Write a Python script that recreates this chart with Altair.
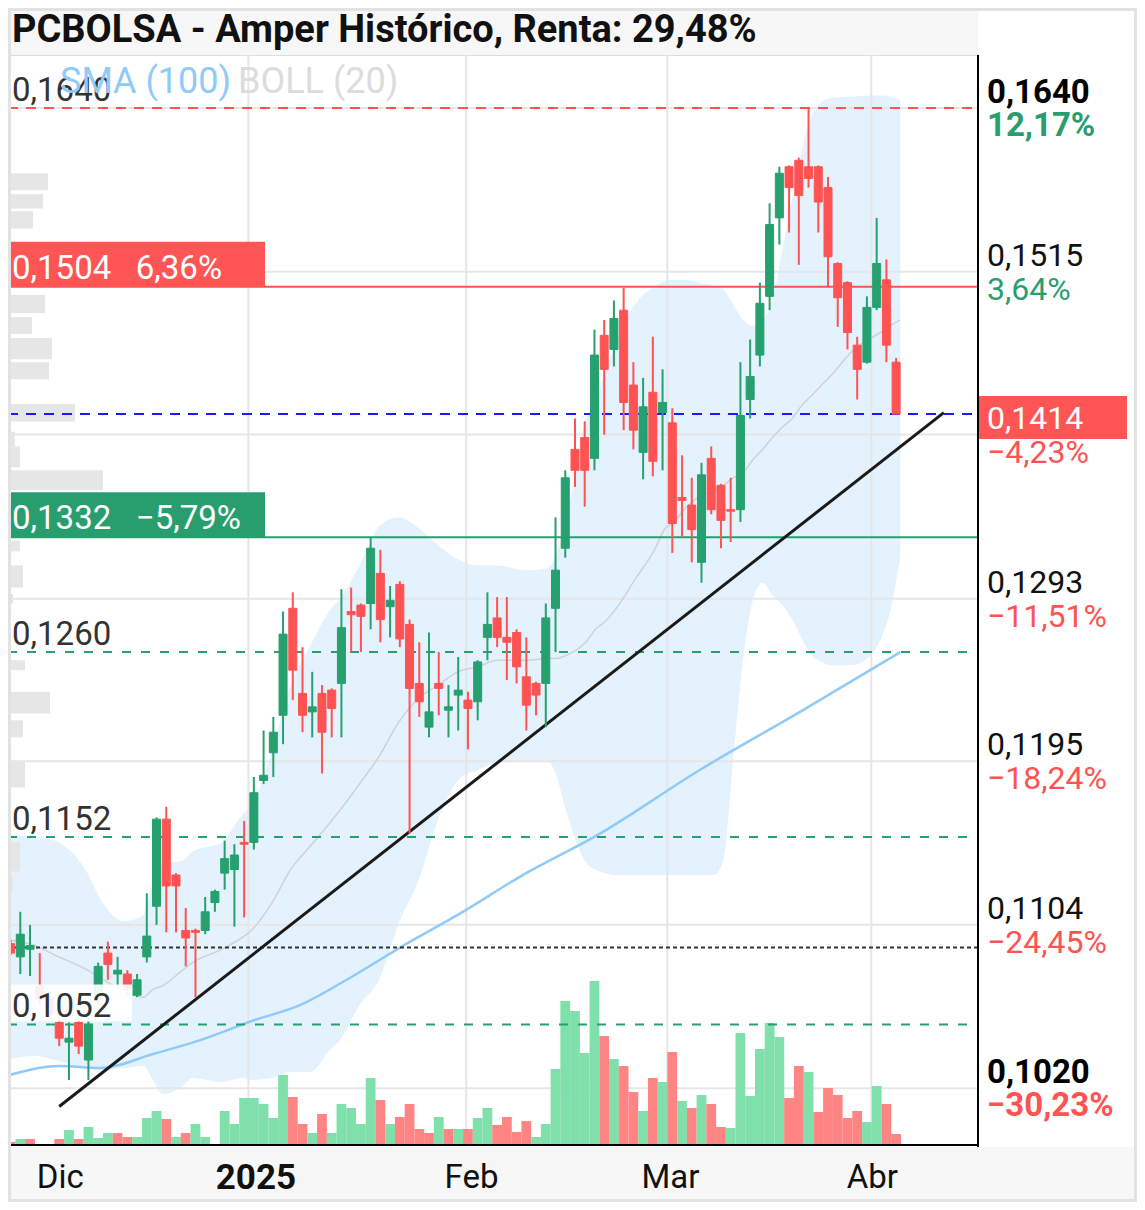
import altair as alt
import pandas as pd

# ---------------- data ----------------
# trading-day index 0..91 (25 Nov 2024 .. 4 Apr 2025)
opens = [0.1094,0.1087,0.1091,0.1072,0.1065,0.1053,0.1043,0.1053,0.1034,0.1065,
         0.1089,0.1078,0.1078,0.1067,0.1087,0.1114,0.1162,0.1131,0.1101,0.1101,
         0.1101,0.1116,0.1132,0.1134,0.1149,0.1149,0.1184,0.1200,0.1222,0.1287,
         0.1235,0.1224,0.1235,0.1237,0.1241,0.1285,0.1289,0.1290,0.1309,0.1288,
         0.1302,0.1277,0.1241,0.1215,0.1241,0.1225,0.1234,0.1231,0.1230,0.1269,
         0.1281,0.1269,0.1272,0.1245,0.1241,0.1241,0.1287,0.1325,0.1390,0.1398,
         0.1384,0.1469,0.1459,0.1487,0.1434,0.1388,0.1429,0.1415,0.1408,0.1358,
         0.1353,0.1316,0.1384,0.1366,0.1350,0.1350,0.1424,0.1455,0.1497,0.1555,
         0.1594,0.1599,0.1594,0.1594,0.1578,0.1521,0.1507,0.1462,0.1450,0.1489,
         0.1509,0.1450]
highs = [0.1096,0.1111,0.1104,0.1089,0.1067,0.1055,0.1053,0.1055,0.1055,0.1084,
         0.1095,0.1087,0.1080,0.1078,0.1121,0.1163,0.1169,0.1132,0.1113,0.1102,
         0.1119,0.1123,0.1150,0.1148,0.1161,0.1186,0.1213,0.1221,0.1285,0.1297,
         0.1263,0.1248,0.1240,0.1238,0.1299,0.1300,0.1290,0.1332,0.1324,0.1301,
         0.1304,0.1280,0.1266,0.1272,0.1260,0.1240,0.1257,0.1236,0.1255,0.1297,
         0.1294,0.1294,0.1274,0.1269,0.1242,0.1290,0.1345,0.1376,0.1411,0.1409,
         0.1473,0.1480,0.1494,0.1503,0.1450,0.1439,0.1468,0.1445,0.1418,0.1386,
         0.1371,0.1381,0.1392,0.1367,0.1371,0.1450,0.1466,0.1507,0.1566,0.1594,
         0.1595,0.1601,0.1640,0.1595,0.1586,0.1522,0.1508,0.1468,0.1497,0.1555,
         0.1524,0.1453]
lows = [0.1088,0.1078,0.1077,0.1062,0.1054,0.1041,0.1024,0.1037,0.1024,0.1062,
        0.1075,0.1072,0.1067,0.1066,0.1084,0.1104,0.1100,0.1100,0.1082,0.1066,
        0.1099,0.1111,0.1123,0.1103,0.1108,0.1145,0.1182,0.1186,0.1205,0.1231,
        0.1212,0.1209,0.1188,0.1209,0.1209,0.1260,0.1260,0.1274,0.1266,0.1269,
        0.1263,0.1154,0.1221,0.1209,0.1222,0.1209,0.1213,0.1202,0.1219,0.1255,
        0.1263,0.1243,0.1241,0.1213,0.1222,0.1215,0.1260,0.1319,0.1365,0.1352,
        0.1376,0.1400,0.1447,0.1403,0.1390,0.1370,0.1372,0.1376,0.1322,0.1332,
        0.1316,0.1303,0.1347,0.1325,0.1329,0.1342,0.1411,0.1447,0.1487,0.1535,
        0.1544,0.1520,0.1578,0.1544,0.1504,0.1475,0.1459,0.1424,0.1449,0.1487,
        0.1450,0.1414]
closes = [0.1089,0.1099,0.1093,0.1065,0.1057,0.1045,0.1045,0.1041,0.1052,0.1082,
          0.1083,0.1080,0.1070,0.1075,0.1098,0.1162,0.1125,0.1125,0.1097,0.1100,
          0.1111,0.1122,0.1140,0.1142,0.1148,0.1177,0.1187,0.1212,0.1271,0.1249,
          0.1222,0.1227,0.1212,0.1226,0.1275,0.1283,0.1282,0.1325,0.1280,0.1292,
          0.1268,0.1238,0.1230,0.1224,0.1238,0.1227,0.1237,0.1226,0.1254,0.1277,
          0.1269,0.1266,0.1251,0.1228,0.1234,0.1281,0.1311,0.1371,0.1376,0.1376,
          0.1455,0.1445,0.1481,0.1422,0.1403,0.1419,0.1382,0.1422,0.1341,0.1356,
          0.1337,0.1373,0.1350,0.1343,0.1349,0.1413,0.1440,0.1492,0.1550,0.1589,
          0.1578,0.1572,0.1585,0.1567,0.1526,0.1496,0.1471,0.1445,0.1489,0.1521,
          0.1462,0.1414]
volumes = [0.3,0.6,0.6,0.1,0.1,0.6,1.5,0.6,1.8,0.7,
           1.2,1.2,0.8,0.8,2.7,3.4,2.6,0.8,1.2,2.1,
           0.8,0.1,3.4,2.1,4.7,4.7,4.1,2.7,7.0,4.8,
           2.1,1.2,3.1,1.2,4.1,3.7,2.1,6.7,4.5,2.1,
           2.8,4.1,1.6,1.2,2.8,1.6,1.6,1.6,2.7,3.7,
           2.0,2.8,1.3,2.4,0.8,2.1,7.6,14.4,13.4,9.2,
           16.4,10.9,8.6,7.9,5.3,3.4,6.7,6.3,9.3,4.4,
           3.7,5.0,4.1,1.8,1.7,11.2,4.9,9.6,12.2,10.8,
           4.7,7.9,7.3,3.3,5.7,5.0,2.7,3.4,2.3,5.9,
           4.1,1.1]
vol_up = [0,1,0,0,0,0,1,0,1,1, 1,0,0,1,1,1,0,1,0,1,
          1,1,1,1,1,1,1,1,1,0, 0,1,0,1,1,1,1,1,0,1,
          0,0,0,0,1,0,1,0,1,1, 0,0,0,0,1,1,1,1,1,1,
          1,0,1,0,0,1,0,1,0,1, 0,1,0,0,1,1,1,1,1,1,
          0,0,1,0,0,0,0,0,1,1, 0,0]

band_idx = [0,3,5,8,10,12,14,15,16,18,19,22,24,25,27,29,31,33,34,36,38,40,42,44,46,
            48,50,53,55,56,57,58,59,60,61,62,63,64,65,66,67,68,69,70,71,72,73,74,75,
            76,77,78,79,80,81,82,83,84,86,88,89,90,91]
band_upper = [0.1153,0.1152,0.1150,0.1135,0.1115,0.1106,0.1109,0.1128,0.1137,0.1139,
              0.1144,0.1149,0.1164,0.1170,0.1199,0.1240,0.1264,0.1286,0.1293,0.1314,
              0.1339,0.1345,0.1338,0.1327,0.1318,0.1314,0.1314,0.1311,0.1312,0.1321,
              0.1343,0.1376,0.1410,0.1420,0.1445,0.1462,0.1480,0.1491,0.1499,0.1504,
              0.1508,0.1509,0.1509,0.1508,0.1506,0.1505,0.1502,0.1491,0.1480,0.1476,
              0.1480,0.1494,0.1531,0.1569,0.1607,0.1634,0.1645,0.1648,0.1649,0.1650,
              0.1650,0.1649,0.1646]
band_mid = [0.1096,0.1093,0.1088,0.1081,0.1075,0.1069,0.1066,0.1070,0.1072,0.1080,
            0.1084,0.1091,0.1097,0.1101,0.1115,0.1134,0.1147,0.1160,0.1167,0.1182,
            0.1198,0.1218,0.1232,0.1240,0.1248,0.1251,0.1255,0.1255,0.1256,0.1256,
            0.1258,0.1261,0.1266,0.1274,0.1279,0.1286,0.1295,0.1305,0.1314,0.1324,
            0.1337,0.1342,0.1350,0.1356,0.1360,0.1363,0.1366,0.1371,0.1374,0.1383,
            0.1390,0.1398,0.1405,0.1411,0.1420,0.1427,0.1434,0.1441,0.1457,0.1467,
            0.1471,0.1476,0.1480]
band_lower = [0.1034,0.1036,0.1034,0.1030,0.1029,0.1030,0.1031,0.1024,0.1017,0.1021,
              0.1025,0.1023,0.1025,0.1024,0.1025,0.1028,0.1028,0.1039,0.1044,0.1062,
              0.1075,0.1105,0.1128,0.1162,0.1184,0.1190,0.1194,0.1195,0.1196,0.1187,
              0.1167,0.1150,0.1138,0.1134,0.1132,0.1131,0.1131,0.1131,0.1131,0.1131,
              0.1131,0.1131,0.1131,0.1131,0.1131,0.1131,0.1139,0.1196,0.1255,0.1292,
              0.1303,0.1295,0.1289,0.1280,0.1268,0.1258,0.1254,0.1252,0.1252,0.1258,
              0.1268,0.1286,0.1320]

sma100_idx = [0,5.5,9.6,15,19.8,25.2,30,34.7,40.8,46.2,52.3,60.5,70.6,80.8,91]
sma100 = [0.1026,0.1031,0.1030,0.1037,0.1044,0.1054,0.1062,0.1075,0.1094,0.1110,
          0.1130,0.1154,0.1190,0.1224,0.1260]

vp_top = [0.1589,0.1573,0.1560,0.1498,0.1482,0.1467,0.1450,0.1421,0.1402,0.1392,
          0.1376,0.1330,0.1314,0.1296,0.1255,0.1236,0.1219,0.1195,0.1149,0.1130]
vp_bottom = [0.1576,0.1562,0.1547,0.1485,0.1470,0.1452,0.1438,0.1409,0.1392,0.1378,
             0.1363,0.1323,0.1300,0.1290,0.1249,0.1223,0.1209,0.1180,0.1133,0.1122]
vp_volume = [400,350,250,370,240,440,410,670,70,120,950,120,150,50,170,420,150,170,120,50]

tick_values = [0.1640, 0.1515, 0.1400, 0.1293, 0.1195, 0.1104, 0.1020]
tick_pct = [12.17, 3.64, -4.23, -11.51, -18.24, -24.45, -30.23]
tick_bold = [True, False, False, False, False, False, True]

month_pos = [4.6, 24.7, 46.85, 67.3, 88.05]
month_labels = ["Dic", "2025", "Feb", "Mar", "Abr"]
month_bold = [False, True, False, False, False]

top_level = [0.1640]
box_levels = [0.1504, 0.1332]
box_pct = [6.36, -5.79]
support_levels = [0.1260, 0.1152, 0.1052]
start_price = [0.1092]
trend_idx = [5.0, 95.9]
trend_price = [0.1011, 0.1415]

TITLE = "PCBOLSA - Amper Histórico, Renta: 29,48%"

# ---------------- styling ----------------
GREEN = "#26a06e"
RED = "#ff5252"
VGREEN = "#80e0ab"
VRED = "#ff8585"
SMA_C = "#90caf9"
BAND_C = "#e3f2fd"
GRID_C = "#e6e6e6"
FONT = "Roboto"
W, H = 970, 1090
GAP = "\u00a0\u00a0\u00a0"


def X(f):
    return alt.X(f"{f}:Q", scale=alt.Scale(domain=[0.25, 98.9], nice=False, zero=False), axis=None)


def Y(f):
    return alt.Y(f"{f}:Q", scale=alt.Scale(type="log", domain=[0.09923, 0.16827], nice=False, zero=False), axis=None)


one = pd.DataFrame({"k": [0]})
fmt_price = "replace(format(datum.v, '.4f'), '.', ',')"
fmt_pct = "replace(format(datum.pct, '.2f'), '.', ',') + '%'"

cdf = pd.DataFrame({"i": list(range(len(closes))), "o": opens, "h": highs, "l": lows,
                    "c": closes, "vol": volumes, "vup": [bool(x) for x in vol_up]})
band_df = pd.DataFrame({"i": band_idx, "up": band_upper, "mid": band_mid, "lo": band_lower})
sma_df = pd.DataFrame({"i": sma100_idx, "p": sma100})
vp_df = pd.DataFrame({"top": vp_top, "bot": vp_bottom, "v": vp_volume, "z": [0] * len(vp_top)})
tick_df = pd.DataFrame({"v": tick_values, "pct": tick_pct, "bold": tick_bold})
month_df = pd.DataFrame({"pos": month_pos, "lab": month_labels, "bold": month_bold})
trend_df = pd.DataFrame({"i": trend_idx, "p": trend_price})
cur_df = pd.DataFrame({"v": [closes[-1]]})

# ---------------- back layers ----------------
title_bg = alt.Chart(one).mark_rect(color="#f7f7f7").encode(
    x=alt.value(0), x2=alt.value(W), y=alt.value(-47), y2=alt.value(0))
bottom_bg = alt.Chart(one).mark_rect(color="#f7f7f7").encode(
    x=alt.value(0), x2=alt.value(1129), y=alt.value(1092), y2=alt.value(1147))
band = alt.Chart(band_df).mark_area(color=BAND_C, interpolate="monotone", clip=True).encode(
    x=X("i"), y=Y("up"), y2="lo")
hgrid = alt.Chart(tick_df).mark_rule(color=GRID_C, strokeWidth=2).encode(
    y=Y("v"), x=alt.value(0), x2=alt.value(W))
vgrid = alt.Chart(month_df[month_df.lab != "Dic"]).mark_rule(color=GRID_C, strokeWidth=2).encode(
    x=X("pos"), y=alt.value(0), y2=alt.value(H))
mid = alt.Chart(band_df).mark_line(color="#d2d2d2", strokeWidth=1.5, interpolate="monotone", clip=True).encode(
    x=X("i"), y=Y("mid"))
sma = alt.Chart(sma_df).mark_line(color=SMA_C, strokeWidth=2.5, interpolate="monotone", clip=True).encode(
    x=X("i"), y=Y("p"))
back = alt.layer(title_bg, bottom_bg, band, hgrid, vgrid, mid, sma)

# ---------------- volume profile (own x scale) ----------------
vp = alt.Chart(vp_df).mark_rect(color="#e6e6e6").encode(
    x=alt.X("v:Q", scale=alt.Scale(domain=[0, 9700], nice=False, zero=False), axis=None),
    x2="z", y=Y("top"), y2="bot")

# ---------------- volume bars (own y scale) ----------------
vol = alt.Chart(cdf).mark_bar(width=9.8, clip=True).encode(
    x=X("i"),
    y=alt.Y("vol:Q", scale=alt.Scale(domain=[0, 109], nice=False), axis=None),
    color=alt.condition("datum.vup", alt.value(VGREEN), alt.value(VRED)))

# ---------------- front layers ----------------
def hline(vals, color, dash=None, width=2):
    kw = dict(color=color, strokeWidth=width)
    if dash:
        kw["strokeDash"] = dash
    return alt.Chart(pd.DataFrame({"v": vals})).mark_rule(**kw).encode(
        y=Y("v"), x=alt.value(0), x2=alt.value(W))


lines = [
    hline(top_level, RED, [10, 8]),
    hline([box_levels[0]], RED),
    hline([closes[-1]], "#1a1aff", [10, 8]),
    hline([box_levels[1]], GREEN),
    hline(support_levels, GREEN, [9, 10]),
    hline(start_price, "#333333", [4, 3]),
]
trend = alt.Chart(trend_df).mark_line(color="#1a1a1a", strokeWidth=3).encode(x=X("i"), y=Y("p"))

ccol = alt.condition("datum.c >= datum.o", alt.value(GREEN), alt.value(RED))
wick = alt.Chart(cdf).mark_rule(strokeWidth=2, clip=True).encode(x=X("i"), y=Y("l"), y2="h", color=ccol)
body = alt.Chart(cdf).mark_bar(width=8, strokeWidth=1, clip=True).encode(
    x=X("i"), y=Y("o"), y2="c", color=ccol, stroke=ccol)

lvl_df = pd.DataFrame({"v": support_levels})
white_box = alt.Chart(lvl_df).mark_rect(color="white", opacity=0.92, yOffset=-40, y2Offset=-3).encode(
    x=alt.value(0), x2=alt.value(124), y=Y("v"), y2="v")
lvl_txt = alt.Chart(pd.DataFrame({"v": top_level + support_levels})).transform_calculate(
    t=fmt_price).mark_text(align="left", baseline="alphabetic", dy=-7, fontSize=33, font=FONT,
                           color="#333333").encode(x=alt.value(4), y=Y("v"), text="t:N")

box_df = pd.DataFrame({"v": box_levels, "pct": box_pct})
col_box = alt.Chart(box_df).mark_rect(yOffset=-45).encode(
    x=alt.value(0), x2=alt.value(257), y=Y("v"), y2="v",
    color=alt.condition("datum.pct >= 0", alt.value("#ff5555"), alt.value("#289e6e")))
col_txt = alt.Chart(box_df).transform_calculate(
    t=fmt_price + " + '" + GAP + "' + " + fmt_pct).mark_text(
    align="left", baseline="alphabetic", dy=-8, fontSize=33, font=FONT, color="white").encode(
    x=alt.value(4), y=Y("v"), text="t:N")

pcol = alt.condition("datum.pct >= 0", alt.value("#2a9d6f"), alt.value(RED))
r_price = alt.Chart(tick_df).transform_filter("!datum.bold").transform_calculate(t=fmt_price).mark_text(
    align="left", baseline="alphabetic", dy=-6, fontSize=32, font=FONT, color="#111111").encode(
    x=alt.value(979), y=Y("v"), text="t:N")
r_price_b = alt.Chart(tick_df).transform_filter("datum.bold").transform_calculate(t=fmt_price).mark_text(
    align="left", baseline="alphabetic", dy=-5, fontSize=33, font=FONT, fontWeight="bold",
    color="#000000").encode(x=alt.value(979), y=Y("v"), text="t:N")
r_pct = alt.Chart(tick_df).transform_filter("!datum.bold").transform_calculate(t=fmt_pct).mark_text(
    align="left", baseline="alphabetic", dy=28, fontSize=32, font=FONT).encode(
    x=alt.value(979), y=Y("v"), text="t:N", color=pcol)
r_pct_b = alt.Chart(tick_df).transform_filter("datum.bold").transform_calculate(t=fmt_pct).mark_text(
    align="left", baseline="alphabetic", dy=28, fontSize=33, font=FONT, fontWeight="bold").encode(
    x=alt.value(979), y=Y("v"), text="t:N", color=pcol)
cur_box = alt.Chart(cur_df).mark_rect(color="#ff5555", yOffset=-18, y2Offset=25).encode(
    x=alt.value(970), x2=alt.value(1119), y=Y("v"), y2="v")
cur_txt = alt.Chart(cur_df).transform_calculate(t=fmt_price).mark_text(
    align="left", baseline="alphabetic", dy=15, fontSize=32, font=FONT, color="white").encode(
    x=alt.value(979), y=Y("v"), text="t:N")

right_axis = alt.Chart(one).mark_rule(color="black", strokeWidth=2).encode(
    x=alt.value(970), y=alt.value(0), y2=alt.value(1092))
bottom_axis = alt.Chart(one).mark_rule(color="black", strokeWidth=2).encode(
    y=alt.value(1090), x=alt.value(0), x2=alt.value(971))
left_border = alt.Chart(one).mark_rule(color="#dddddd", strokeWidth=3).encode(
    x=alt.value(1.5), y=alt.value(-47), y2=alt.value(1147))
frame = alt.Chart(one).mark_rect(fill=None, stroke="#e2e2e2", strokeWidth=3).encode(
    x=alt.value(1.5), x2=alt.value(1127.5), y=alt.value(-45.5), y2=alt.value(1145.5))

legend_sma = alt.Chart(one).mark_text(text="SMA (100)", align="left", baseline="alphabetic",
                                      fontSize=36, font=FONT, color=SMA_C).encode(
    x=alt.value(52), y=alt.value(38))
legend_boll = alt.Chart(one).mark_text(text="BOLL (20)", align="left", baseline="alphabetic",
                                       fontSize=36, font=FONT, color="#dcdcdc").encode(
    x=alt.value(230), y=alt.value(38))
title = alt.Chart(one).mark_text(text=TITLE, align="left", baseline="alphabetic", fontSize=38,
                                 font=FONT, fontWeight="bold", color="#111111").encode(
    x=alt.value(4), y=alt.value(-13))
months = alt.Chart(month_df).transform_filter("!datum.bold").mark_text(
    align="center", baseline="middle", dx=5, fontSize=33, font=FONT, color="#111111").encode(
    x=X("pos"), y=alt.value(1123), text="lab:N")
months_b = alt.Chart(month_df).transform_filter("datum.bold").mark_text(
    align="center", baseline="middle", dx=5, fontSize=35, font=FONT, fontWeight="bold",
    color="#111111").encode(x=X("pos"), y=alt.value(1123), text="lab:N")

front = alt.layer(*lines, trend, wick, body, white_box, lvl_txt, col_box, col_txt,
                  r_price, r_price_b, r_pct, r_pct_b, cur_box, cur_txt,
                  right_axis, bottom_axis, left_border, frame,
                  legend_sma, legend_boll, title, months, months_b)

chart = alt.layer(back, vp, vol, front).resolve_scale(
    x="independent", y="independent"
).properties(
    width=W, height=H,
    autosize=alt.AutoSizeParams(type="none"),
    padding={"left": 0, "top": 47, "right": 159, "bottom": 57},
).configure_view(stroke=None).configure(background="white")

chart.save("out.html", embed_options={"renderer": "svg", "actions": False})
